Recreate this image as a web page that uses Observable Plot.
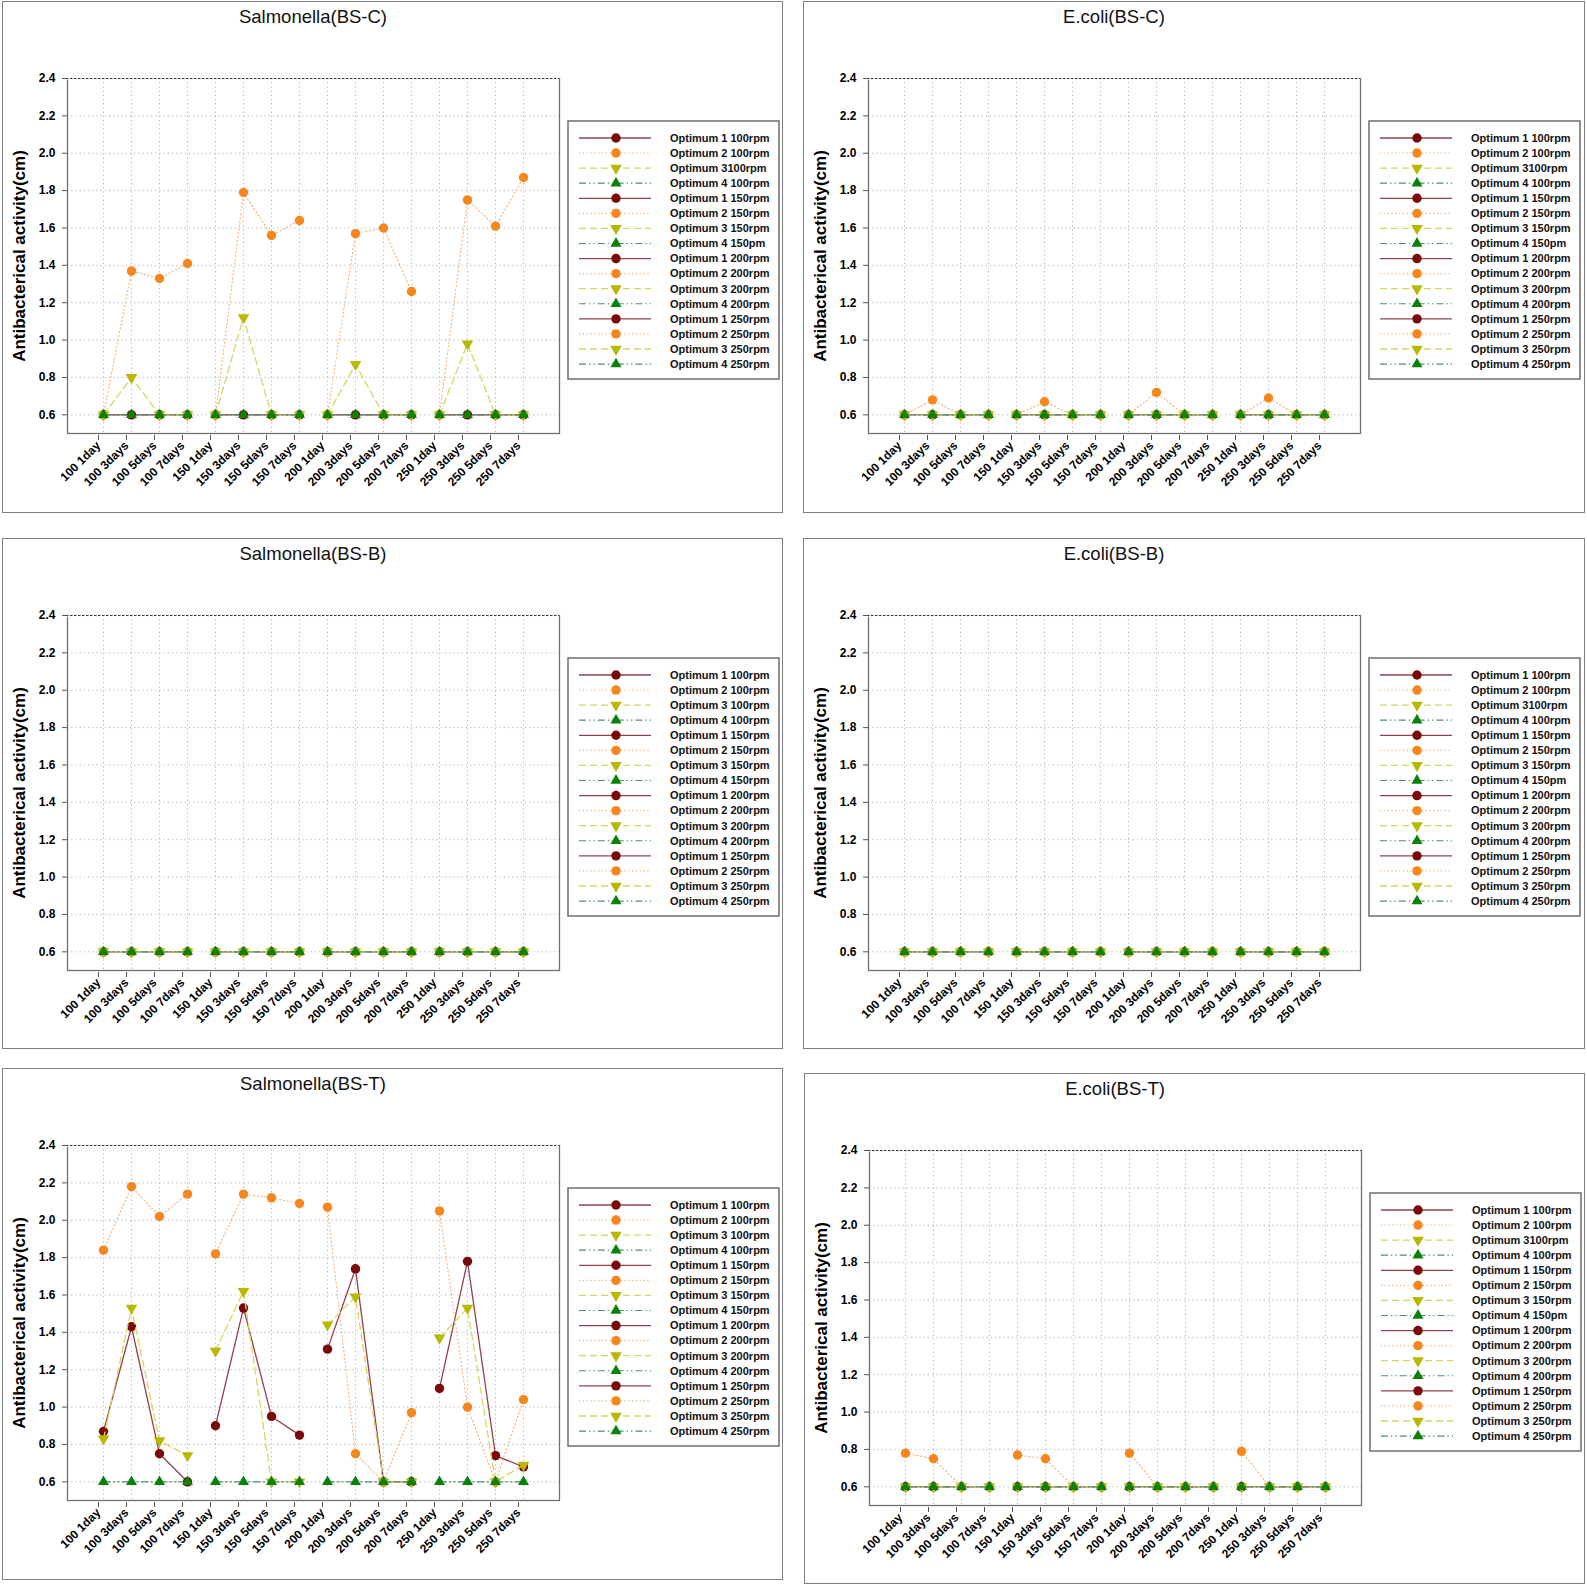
<!DOCTYPE html>
<html><head><meta charset="utf-8">
<script src="https://cdn.jsdelivr.net/npm/d3@7"></script>
<script src="https://cdn.jsdelivr.net/npm/@observablehq/plot@0.6"></script>
<style>
body{margin:0;background:#fff;font-family:"Liberation Sans",Arial,sans-serif;}
#root{position:relative;width:1587px;height:1587px;background:#fff;overflow:hidden;}
.panel{position:absolute;}
.panel svg{position:absolute;left:0;top:0;}
.border{position:absolute;left:0;top:0;right:0;bottom:0;border:1.5px solid #7f7f7f;box-sizing:border-box;pointer-events:none;}
.title{position:absolute;top:5px;left:0;width:622px;text-align:center;font-size:18.5px;color:#111;white-space:nowrap;}
</style></head><body><div id="root"></div>
<script>
// ---------- data ----------
const categories = ["100 1day","100 3days","100 5days","100 7days","150 1day","150 3days","150 5days","150 7days","200 1day","200 3days","200 5days","200 7days","250 1day","250 3days","250 5days","250 7days"];
const rpmGroups = ["100","150","200","250"];
const optimumNames = ["Optimum 1","Optimum 2","Optimum 3","Optimum 4"];
const yTicks = [0.6,0.8,1.0,1.2,1.4,1.6,1.8,2.0,2.2,2.4];
const yAxisLabel = "Antibacterical activity(cm)";

const legendLabelsA = ["Optimum 1 100rpm","Optimum 2 100rpm","Optimum 3100rpm","Optimum 4 100rpm","Optimum 1 150rpm","Optimum 2 150rpm","Optimum 3 150rpm","Optimum 4 150pm","Optimum 1 200rpm","Optimum 2 200rpm","Optimum 3 200rpm","Optimum 4 200rpm","Optimum 1 250rpm","Optimum 2 250rpm","Optimum 3 250rpm","Optimum 4 250rpm"];
const legendLabelsB = ["Optimum 1 100rpm","Optimum 2 100rpm","Optimum 3 100rpm","Optimum 4 100rpm","Optimum 1 150rpm","Optimum 2 150rpm","Optimum 3 150rpm","Optimum 4 150rpm","Optimum 1 200rpm","Optimum 2 200rpm","Optimum 3 200rpm","Optimum 4 200rpm","Optimum 1 250rpm","Optimum 2 250rpm","Optimum 3 250rpm","Optimum 4 250rpm"];

const baselineValues = [0.6,0.6,0.6,0.6,0.6,0.6,0.6,0.6,0.6,0.6,0.6,0.6,0.6,0.6,0.6,0.6];

const salmonellaBSC_opt1 = [0.6,0.6,0.6,0.6,0.6,0.6,0.6,0.6,0.6,0.6,0.6,0.6,0.6,0.6,0.6,0.6];
const salmonellaBSC_opt2 = [0.6,1.37,1.33,1.41,0.6,1.79,1.56,1.64,0.6,1.57,1.60,1.26,0.6,1.75,1.61,1.87];
const salmonellaBSC_opt3 = [0.6,0.80,0.6,0.6,0.6,1.12,0.6,0.6,0.6,0.87,0.6,0.6,0.6,0.98,0.6,0.6];
const salmonellaBSC_opt4 = [0.6,0.6,0.6,0.6,0.6,0.6,0.6,0.6,0.6,0.6,0.6,0.6,0.6,0.6,0.6,0.6];

const ecoliBSC_opt2 = [0.6,0.68,0.6,0.6,0.6,0.67,0.6,0.6,0.6,0.72,0.6,0.6,0.6,0.69,0.6,0.6];

const salmonellaBST_opt1 = [0.87,1.43,0.75,0.60,0.90,1.53,0.95,0.85,1.31,1.74,0.60,0.60,1.10,1.78,0.74,0.68];
const salmonellaBST_opt2 = [1.84,2.18,2.02,2.14,1.82,2.14,2.12,2.09,2.07,0.75,0.60,0.97,2.05,1.00,0.60,1.04];
const salmonellaBST_opt3 = [0.83,1.53,0.82,0.74,1.30,1.62,0.60,0.60,1.44,1.59,0.60,0.60,1.37,1.53,0.60,0.69];

const ecoliBST_opt2 = [0.78,0.75,0.6,0.6,0.77,0.75,0.6,0.6,0.78,0.6,0.6,0.6,0.79,0.6,0.6,0.6];

// ---------- styles ----------
const markerColors = ["#7a0a0a","#f7861c","#b8b800","#0a820a"];
const lineColors = ["#93404c","#f0b070","#d6d65e","#4e8f68"];
const lineWidths = [1.3,1.1,1.3,1.2];
const lineDashes = [null,"1.2,2.6","7,4","7,3,1.4,3,1.4,3"];

const triangleDown = {
  draw(context, size) {
    const y = -Math.sqrt(size / (Math.sqrt(3) * 3));
    context.moveTo(0, -y * 2);
    context.lineTo(-Math.sqrt(3) * y, y);
    context.lineTo(Math.sqrt(3) * y, y);
    context.closePath();
  }
};
const markerSymbols = [d3.symbolCircle, d3.symbolCircle, triangleDown, d3.symbolTriangle];
const markerR = [4.7, 4.7, 4.3, 4.1];

const panels = [
  {title:"Salmonella(BS-C)", left:2, top:1, w:781, h:512, series:[salmonellaBSC_opt1, salmonellaBSC_opt2, salmonellaBSC_opt3, salmonellaBSC_opt4], legend:legendLabelsA},
  {title:"E.coli(BS-C)", left:803, top:1, w:782, h:512, series:[baselineValues, ecoliBSC_opt2, baselineValues, baselineValues], legend:legendLabelsA},
  {title:"Salmonella(BS-B)", left:2, top:538, w:781, h:511, series:[baselineValues, baselineValues, baselineValues, baselineValues], legend:legendLabelsB},
  {title:"E.coli(BS-B)", left:803, top:538, w:782, h:511, series:[baselineValues, baselineValues, baselineValues, baselineValues], legend:legendLabelsA},
  {title:"Salmonella(BS-T)", left:2, top:1068, w:781, h:512, series:[salmonellaBST_opt1, salmonellaBST_opt2, salmonellaBST_opt3, baselineValues], legend:legendLabelsB},
  {title:"E.coli(BS-T)", left:804, top:1073, w:781, h:511, series:[baselineValues, ecoliBST_opt2, baselineValues, baselineValues], legend:legendLabelsA}
];

const root = document.getElementById("root");
const ML = 65, MT = 77, FW = 492, FH = 355;

function rowsFor(values, k) {
  return values.map((v, i) => ({cat: categories[i], value: v, series: optimumNames[k] + " " + rpmGroups[Math.floor(i / 4)]}));
}

for (const p of panels) {
  const div = document.createElement("div");
  div.className = "panel";
  Object.assign(div.style, {left: p.left + "px", top: p.top + "px", width: p.w + "px", height: p.h + "px"});
  root.appendChild(div);

  const seriesMarks = [];
  p.series.forEach((vals, k) => {
    const rows = rowsFor(vals, k);
    seriesMarks.push(Plot.line(rows, {x: "cat", y: "value", z: "series", stroke: lineColors[k], strokeWidth: lineWidths[k], strokeDasharray: lineDashes[k] ?? undefined}));
    seriesMarks.push(Plot.dot(rows, {x: "cat", y: "value", symbol: markerSymbols[k], r: markerR[k], fill: markerColors[k], stroke: "none"}));
  });

  const chart = Plot.plot({
    width: p.w, height: p.h,
    marginLeft: ML, marginTop: MT, marginRight: p.w - ML - FW, marginBottom: p.h - MT - FH,
    style: {fontFamily: '"Liberation Sans", Arial, sans-serif', background: "transparent", overflow: "visible", color: "#000"},
    x: {type: "point", domain: categories, padding: 1},
    y: {domain: [0.5, 2.4]},
    marks: [
      Plot.gridX(categories, {stroke: "#b4b4b4", strokeOpacity: 1, strokeDasharray: "1.2,3"}),
      Plot.gridY(yTicks, {stroke: "#b4b4b4", strokeOpacity: 1, strokeDasharray: "1.2,3"}),
      Plot.frame({stroke: "#707070", strokeWidth: 1.3}),
      Plot.ruleY([2.4], {stroke: "#ffffff", strokeWidth: 2.5}),
      Plot.ruleY([2.4], {stroke: "#333", strokeWidth: 1, strokeDasharray: "2.5,1.5", insetLeft: -5}),
      Plot.axisY(yTicks, {tickSize: 5, tickPadding: 7, tickFormat: d => d.toFixed(1), fontSize: 12, fontWeight: "bold", stroke: "#555", fill: "#000", label: null}),
      Plot.axisX(categories, {tickSize: 5, tickPadding: 3, tickRotate: -45, fontSize: 12, fontWeight: "bold", stroke: "#555", fill: "#000", label: null, dx: -5, dy: 2}),
      Plot.text([yAxisLabel], {frameAnchor: "left", dx: -48, rotate: -90, textAnchor: "middle", fontSize: 17, fontWeight: "bold", fill: "#000"}),
      ...seriesMarks
    ]
  });
  div.appendChild(chart);

  // legend drawn inside the svg
  const svg = d3.select(chart);
  const lg = svg.append("g").attr("transform", `translate(${ML + FW + 9},120)`).attr("text-anchor", "start");
  lg.append("rect").attr("width", 211).attr("height", 258).attr("fill", "#fff").attr("stroke", "#6e6e6e").attr("stroke-width", 1.5);
  p.legend.forEach((lab, i) => {
    const k = i % 4;
    const y = 17 + i * 15.07;
    const ln = lg.append("line").attr("x1", 11).attr("x2", 83).attr("y1", y).attr("y2", y)
      .attr("stroke", lineColors[k]).attr("stroke-width", lineWidths[k]);
    if (lineDashes[k]) ln.attr("stroke-dasharray", lineDashes[k]);
    lg.append("path").attr("d", d3.symbol(markerSymbols[k], Math.PI * markerR[k] * markerR[k])())
      .attr("transform", `translate(48,${y})`).attr("fill", markerColors[k]);
    lg.append("text").attr("x", 102).attr("y", y).attr("dy", "0.35em").attr("text-anchor", "start")
      .attr("font-size", 11).attr("font-weight", "bold").attr("fill", "#111").text(lab);
  });

  const border = document.createElement("div");
  border.className = "border";
  div.appendChild(border);

  const t = document.createElement("div");
  t.className = "title";
  t.textContent = p.title;
  div.appendChild(t);
}
</script>
</body></html>
